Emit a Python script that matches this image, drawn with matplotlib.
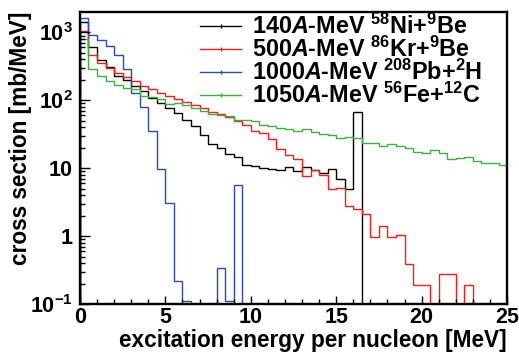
import numpy as np
import matplotlib
matplotlib.use("Agg")
import matplotlib.pyplot as plt
from matplotlib.lines import Line2D
from matplotlib.ticker import FixedLocator, FixedFormatter, MultipleLocator

# 0.5 MeV bins from 0 to 25 MeV/u
edges = np.arange(0, 25.01, 0.5)

# cross sections [mb/MeV], one value per bin (0 = empty bin)
ni_be = [1400, 600, 390, 310, 232, 200, 165, 137, 107, 92,
         76, 66, 52, 42, 31, 22.6, 19.7, 16.2, 14.9, 11.3,
         10.7, 10.0, 9.7, 9.3, 10.6, 9.2, 10.5, 9.4, 8.5, 9.6,
         6.9, 5.0, 68, 0, 0, 0, 0, 0, 0, 0,
         0, 0, 0, 0, 0, 0, 0, 0, 0, 0]
kr_be = [1035, 470, 353, 300, 252, 218, 190, 165, 145, 130,
         115, 103, 94, 84, 77, 68, 62, 56, 49, 43,
         35, 32.6, 27, 19, 15.5, 13.5, 7.6, 9.5, 8.0, 4.9,
         5.2, 2.8, 2.55, 2.1, 0.98, 1.42, 0.98, 1.05, 0.39, 0.19,
         0.19, 0, 0.275, 0.275, 0, 0.19, 0, 0, 0, 0]
pb_h = [1620, 910, 785, 625, 460, 290, 128, 80, 35, 9.7,
        3.1, 0.22, 0.11, 0, 0, 0, 0.34, 0.11, 5.6, 0,
        0, 0, 0, 0, 0, 0, 0, 0, 0, 0,
        0, 0, 0, 0, 0, 0, 0, 0, 0, 0,
        0, 0, 0, 0, 0, 0, 0, 0, 0, 0]
fe_c = [810, 290, 230, 190, 168, 152, 145, 116, 113, 103,
        88, 92, 86, 76, 70, 64, 60, 58, 52, 51,
        49, 44, 42, 39, 38, 35, 38, 34, 32, 31,
        28, 28.5, 27.5, 23.3, 23.8, 21, 22.4, 21, 20, 17.3,
        16.6, 18.6, 16.6, 13.8, 14.2, 14.8, 12.6, 12, 12, 11]

labels = [r"140$\mathit{A}$-MeV $^{58}$Ni+$^{9}$Be",
          r"500$\mathit{A}$-MeV $^{86}$Kr+$^{9}$Be",
          r"1000$\mathit{A}$-MeV $^{208}$Pb+$^{2}$H",
          r"1050$\mathit{A}$-MeV $^{56}$Fe+$^{12}$C"]
colors = ["black", "#ff1a1a", "#2d4ca6", "#3cb03c"]

y_ticks = [0.1, 1, 10, 100, 1000]
y_tick_labels = [r"$10^{-1}$", "1", "10", r"$10^{2}$", r"$10^{3}$"]

plt.rcParams["font.family"] = "Liberation Sans"
plt.rcParams["font.weight"] = "bold"
plt.rcParams["axes.labelweight"] = "bold"
plt.rcParams["mathtext.fontset"] = "custom"
plt.rcParams["mathtext.rm"] = "Liberation Sans:bold"
plt.rcParams["mathtext.it"] = "Liberation Sans:bold:italic"
plt.rcParams["mathtext.bf"] = "Liberation Sans:bold"

TICK_FS = 15.5
LABEL_FS = 16.3
LEG_FS = 16.8

fig = plt.figure(figsize=(5.19, 3.52), dpi=100)
ax = fig.add_axes([0.154, 0.136, 0.823, 0.830])

for vals, c in zip([ni_be, kr_be, pb_h, fe_c], colors):
    v = np.asarray(vals, dtype=float)
    v = np.where(v > 0, v, 1e-4)  # empty bins fall below the frame
    ax.stairs(v, edges, color=c, lw=1.0, baseline=1e-4)

ax.set_yscale("log")
ax.set_xlim(0, 25)
ax.set_ylim(0.1, 2000)

ax.yaxis.set_major_locator(FixedLocator(y_ticks))
ax.yaxis.set_major_formatter(FixedFormatter(y_tick_labels))
minors = [m * 10.0 ** d for d in range(-1, 4) for m in range(2, 10)]
ax.yaxis.set_minor_locator(FixedLocator([m for m in minors if m < 2000]))
ax.xaxis.set_major_locator(MultipleLocator(5))
ax.xaxis.set_minor_locator(MultipleLocator(1))

ax.tick_params(which="both", direction="in", top=False, right=False, width=1.0, labelsize=TICK_FS)
ax.tick_params(axis="y", which="major", length=7, pad=5)
ax.tick_params(axis="y", which="minor", length=3.5)
ax.tick_params(axis="x", which="major", length=6, pad=2)
ax.tick_params(axis="x", which="minor", length=3.5)
for s in ax.spines.values():
    s.set_linewidth(1.7)

ax.set_xlabel("excitation energy per nucleon [MeV]", fontsize=LABEL_FS, loc="right")
ax.set_ylabel("cross section [mb/MeV]", fontsize=LABEL_FS, loc="top")
ax.xaxis.set_label_coords(1.0, -0.085)
ax.yaxis.set_label_coords(-0.112, 1.0)

handles = [Line2D([], [], color=c, lw=1.0, marker="|", ms=3) for c in colors]
ax.legend(handles, labels, loc="upper left", bbox_to_anchor=(0.26, 1.025),
          frameon=False, fontsize=LEG_FS, handlelength=1.75, handletextpad=0.45,
          labelspacing=-0.1, borderaxespad=0, numpoints=1)

fig.savefig("out.png", dpi=100)
